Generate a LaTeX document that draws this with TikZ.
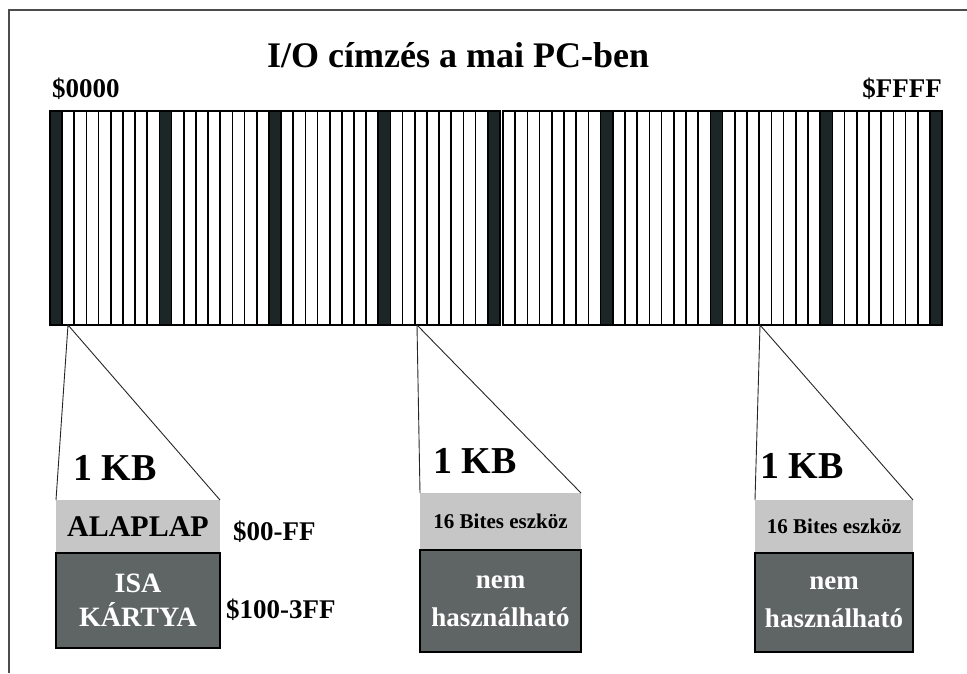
\documentclass[tikz,border=0pt]{standalone}
\usepackage{fontspec}
\setmainfont{Liberation Serif}
\usepackage{xcolor}
\usepackage{tikz}
\usetikzlibrary{positioning}
\definecolor{bardark}{RGB}{28,38,38}
\definecolor{boxlight}{RGB}{198,198,198}
\definecolor{boxdark}{RGB}{95,101,101}
\tikzset{
  frameline/.style = {draw=black!70, line width=1.3pt},
  cellline/.style  = {draw=black, line width=1.7pt},
  barframe/.style  = {draw=black, line width=1.8pt},
  zoomline/.style  = {draw=black!85, line width=0.9pt},
  ttl/.style       = {font=\fontsize{36}{40}\selectfont\bfseries, inner sep=0pt},
  addr/.style      = {font=\fontsize{27}{30}\selectfont\bfseries, inner sep=0pt},
  kb/.style        = {font=\fontsize{38}{40}\selectfont\bfseries, inner sep=0pt},
  upper/.style     = {fill=boxlight, inner sep=0pt, outer sep=0pt, align=center,
                      font=\fontsize{30}{32}\selectfont\bfseries},
  upsmall/.style   = {upper, font=\fontsize{21}{24}\selectfont\bfseries},
  lower/.style     = {fill=boxdark, draw=black, line width=1.6pt, text=white,
                      inner sep=0pt, outer sep=0pt, align=center,
                      font=\fontsize{28}{34}\selectfont\bfseries},
  lowsmall/.style  = {lower, font=\fontsize{27}{38}\selectfont\bfseries},
}

\begin{document}
\begin{tikzpicture}[x=1pt, y=-1pt]
\useasboundingbox (0,0) rectangle (967,673);

% --- frame (open on right and bottom) ---
\draw[frameline] (967,10) -- (9,10) -- (9,673);

% --- title and range ---
\node[ttl, anchor=base west] (title) at (267,67) {I/O címzés a mai PC-ben};
\node[addr, anchor=base west] (lo) at (52,97) {\$0000};
\node[addr, anchor=base east] (hi) at (942,97) {\$FFFF};

% --- address bar, left half ---
\foreach \k in {0,...,4}
  \fill[bardark] ({50+9*\k*12.16},111) rectangle ++(12.16,214);
\foreach \i in {1,...,36}
  \draw[cellline] ({50+\i*12.16},111) -- ++(0,214);
\draw[barframe] (50,111) rectangle (500,325);

% --- address bar, right half ---
\foreach \k in {1,...,4}
  \fill[bardark] ({503+(9*\k-1)*12.2},111) rectangle ++(12.2,214);
\foreach \i in {1,...,35}
  \draw[cellline] ({503+\i*12.2},111) -- ++(0,214);
\draw[barframe] (503,111) rectangle (942,325);

% --- zoom points ---
\coordinate (p1) at (68,325);
\coordinate (p2) at (417,325);
\coordinate (p3) at (760,325);

% --- first 1 KB: mainboard + ISA ---
\node[upper, minimum width=164, minimum height=53] (alaplap) at (138,526.5)
     {ALAPLAP};
\node[lower, minimum width=164, minimum height=95, below=0pt of alaplap] (isa)
     {\raisebox{-4pt}{\parbox{150pt}{\centering ISA\\KÁRTYA}}};
\node[addr, anchor=base west] (r1) at (233,540) {\$00-FF};
\node[addr, anchor=base west] (r2) at (226,618) {\$100-3FF};
\node[kb, anchor=base west] (kb1) at (73,480) {1 KB};

% --- second 1 KB ---
\node[upsmall, minimum width=161, minimum height=57] (bit2) at (500.5,521.5)
     {16 Bites eszköz};
\node[lowsmall, minimum width=161, minimum height=102, below=0pt of bit2] (nem2)
     {nem\\használható};
\node[kb, anchor=base west] (kb2) at (433,473) {1 KB};

% --- third 1 KB ---
\node[upsmall, minimum width=158, minimum height=53] (bit3) at (834,526.5)
     {16 Bites eszköz};
\node[lowsmall, minimum width=158, minimum height=99, below=0pt of bit3] (nem3)
     {nem\\használható};
\node[kb, anchor=base west] (kb3) at (760,478) {1 KB};

% --- zoom lines ---
\draw[zoomline] (alaplap.north west) -- (p1) -- (alaplap.north east);
\draw[zoomline] (bit2.north west) -- (p2) -- (bit2.north east);
\draw[zoomline] (bit3.north west) -- (p3) -- (bit3.north east);
\end{tikzpicture}
\end{document}
